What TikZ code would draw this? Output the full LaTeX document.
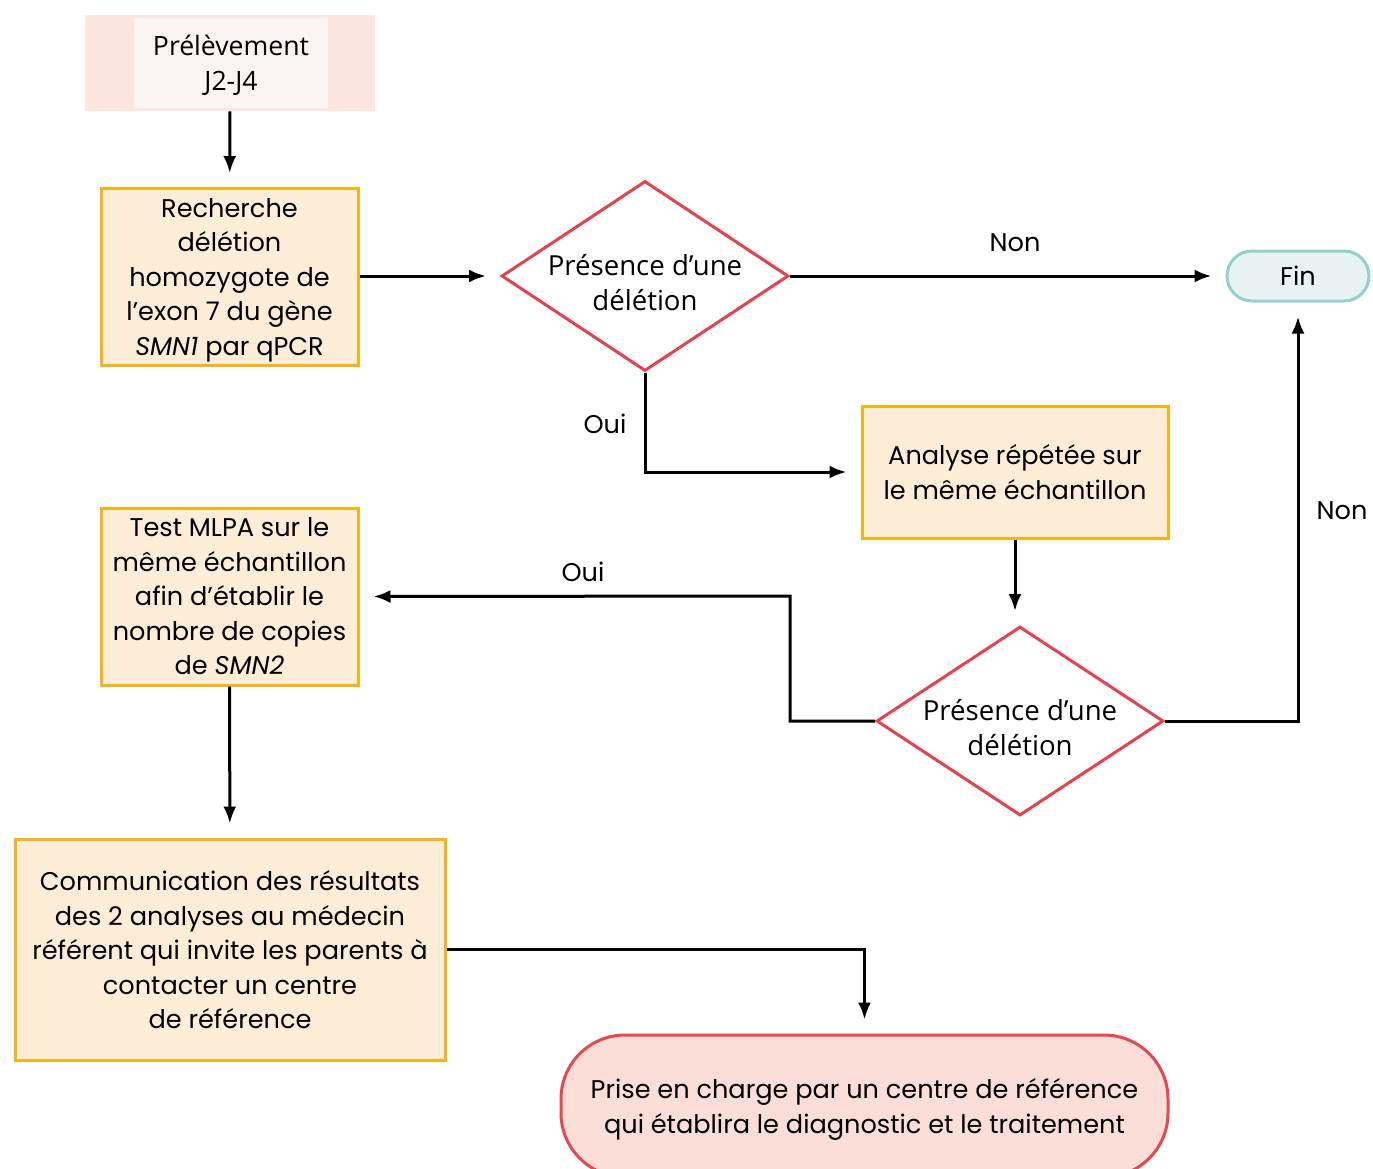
\documentclass[tikz,border=0pt]{standalone}
\usepackage{fontspec}
\setmainfont{Poppins}
\newfontfamily\humfont{Open Sans}
\usetikzlibrary{shapes.geometric,arrows.meta}

\definecolor{boxfill}{HTML}{FFEED7}
\definecolor{boxline}{HTML}{F6B41C}
\definecolor{diamline}{HTML}{E5424D}
\definecolor{finfill}{HTML}{E7F4F3}
\definecolor{finline}{HTML}{93D1CC}
\definecolor{prisefill}{HTML}{FBDED8}
\definecolor{priseline}{HTML}{E8474E}
\definecolor{prelouter}{HTML}{FDE5E0}
\definecolor{prelinner}{HTML}{FAF4F3}

\tikzset{
  every node/.style={font=\fontsize{12.8}{17.25}\selectfont, align=center, inner sep=0pt, text depth=0pt},
  stepbox/.style={draw=boxline, fill=boxfill, line width=1.5pt},
  choice/.style={diamond, draw=diamline, line width=1.5pt, fill=white, text height=34pt, inner sep=-2pt,
    font=\humfont\fontsize{13.8}{17.5}\selectfont},
  arr/.style={-{Latex[length=8.5pt,width=6.5pt]}, line width=1.5pt, shorten >=7pt},
  lnk/.style={line width=1.5pt}
}

\begin{document}
\begin{tikzpicture}[x=0.5pt,y=-0.5pt]
        \clip (0,0) rectangle (1373,1169);

        \node (prelbg) at (230,63) [fill=prelouter, minimum width=145pt, minimum height=48pt] {};
        \node (prel) at (231,63) [fill=prelinner, minimum width=97pt, minimum height=45pt,
          font=\humfont\fontsize{13.3}{17.5}\selectfont] {Prélèvement\\J2-J4};
        \node (rech) at (229.5,277) [stepbox, minimum width=128.5pt, minimum height=88.5pt]
          {Recherche\\délétion\\homozygote de\\l’exon 7 du gène\\\textit{SMN1} par qPCR};
        \node (del1) at (645,276) [choice, minimum width=143.5pt, minimum height=95pt, aspect=1.5]
          {Présence d’une\\délétion};
        \node (fin) at (1298,276) [draw=finline, fill=finfill, line width=1.5pt, rounded corners=12.5pt,
          minimum width=71pt, minimum height=25pt] {Fin};
        \node (analyse) at (1015,472) [stepbox, minimum width=153pt, minimum height=66pt]
          {Analyse répétée sur\\le même échantillon};
        \node (del2) at (1020,721) [choice, minimum width=143.5pt, minimum height=94.5pt, aspect=1.5]
          {Présence d’une\\délétion};
        \node (mlpa) at (229.5,596.5) [stepbox, minimum width=128.5pt, minimum height=88.5pt]
          {Test MLPA sur le\\même échantillon\\afin d’établir le\\nombre de copies\\de \textit{SMN2}};
        \node (comm) at (230,949.5) [stepbox, minimum width=215pt, minimum height=110.5pt]
          {Communication des résultats\\des 2 analyses au médecin\\référent qui invite les parents à\\contacter un centre\\de référence};
        \node (prise) at (864.5,1106) [draw=priseline, fill=prisefill, line width=1.5pt, rounded corners=32pt,
          minimum width=303.5pt, minimum height=71pt]
          {Prise en charge par un centre de référence\\qui établira le diagnostic et le traitement};

        \coordinate (k1) at (790,596);

        \node (non1) at (1015,243) {Non};
        \node (oui1) at (605,424) {Oui};
        \node (oui2) at (583,572) {Oui};
        \node (non2) at (1342,511) {Non};

        \draw [arr] (prelbg) -- (rech);
        \draw [arr] (rech.east |- del1.west) -- (del1.west);
        \draw [arr] (del1.east) -- (fin.west);
        \draw [arr] (del1.south) |- (analyse.west);
        \draw [arr] (analyse.south) -- (analyse.south |- del2.north);
        \draw [arr] (del2.west) -| (k1) -- (mlpa.east);
        \draw [arr] (del2.east) -| (fin.south);
        \draw [arr] (mlpa) -- (comm);
        \draw [arr] (comm.east) -| (prise.north);
\end{tikzpicture}
\end{document}
